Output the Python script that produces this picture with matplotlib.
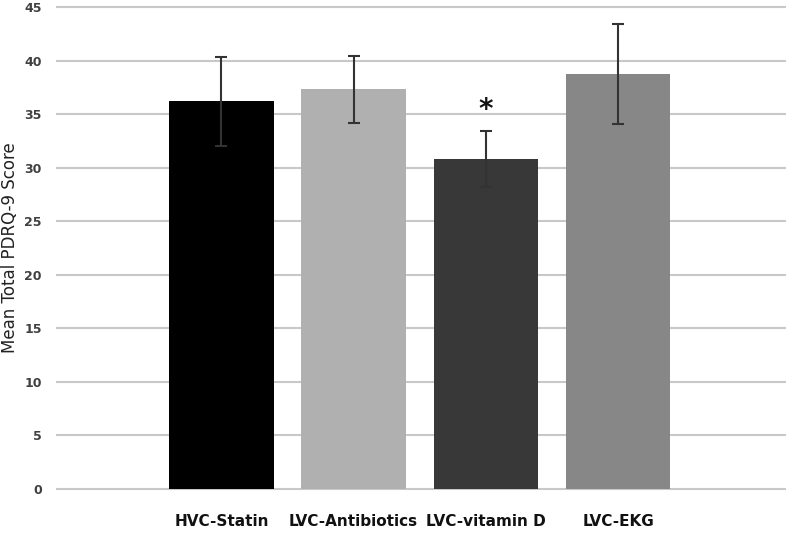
import matplotlib
matplotlib.use("Agg")
import matplotlib.pyplot as plt

categories = ["HVC-Statin", "LVC-Antibiotics", "LVC-vitamin D", "LVC-EKG"]
means = [36.2, 37.3, 30.8, 38.75]
errors = [4.15, 3.15, 2.65, 4.65]
colors = ["#000000", "#b0b0b0", "#383838", "#878787"]
yticks = [0, 5, 10, 15, 20, 25, 30, 35, 40, 45]
star_index = 2
star_y = 35.4

plt.rcParams['font.family'] = ['DejaVu Sans']
fig = plt.figure(figsize=(7.86, 5.36), dpi=100)
ax = fig.add_axes([57/786, 1-489/536, 1-57/786, (489-7)/536])

x = list(range(len(categories)))
ax.bar(x, means, width=0.79, color=colors, zorder=2)
ax.errorbar(x, means, yerr=errors, fmt='none', ecolor='#333333',
            elinewidth=1.5, capsize=4, capthick=1.5, zorder=3)
ax.text(x[star_index], star_y, "*", ha='center', va='center',
        fontsize=20, fontweight='bold', color='#111111')

ax.set_ylim(0, 45)
ax.set_xlim(-1.244, 4.27)
ax.set_yticks(yticks)
ax.yaxis.grid(True, color='#c8c8c8', linewidth=1.5, zorder=0)
for gl in ax.get_ygridlines():
    gl.set_clip_on(False)
ax.set_axisbelow(True)
for s in ax.spines.values():
    s.set_visible(False)
ax.tick_params(axis='y', length=0, pad=11, labelsize=9, labelcolor='#404040')
ax.tick_params(axis='x', length=0, pad=18, labelsize=11)
ax.set_xticks(x)
ax.set_xticklabels(categories, fontweight='bold', color='#111111')
for lbl in ax.get_yticklabels():
    lbl.set_fontweight('bold')
ax.set_ylabel("Mean Total PDRQ-9 Score", fontsize=12, color='#222222')
ax.yaxis.set_label_coords(-0.052, 0.5)

fig.savefig("out.png", dpi=100)
